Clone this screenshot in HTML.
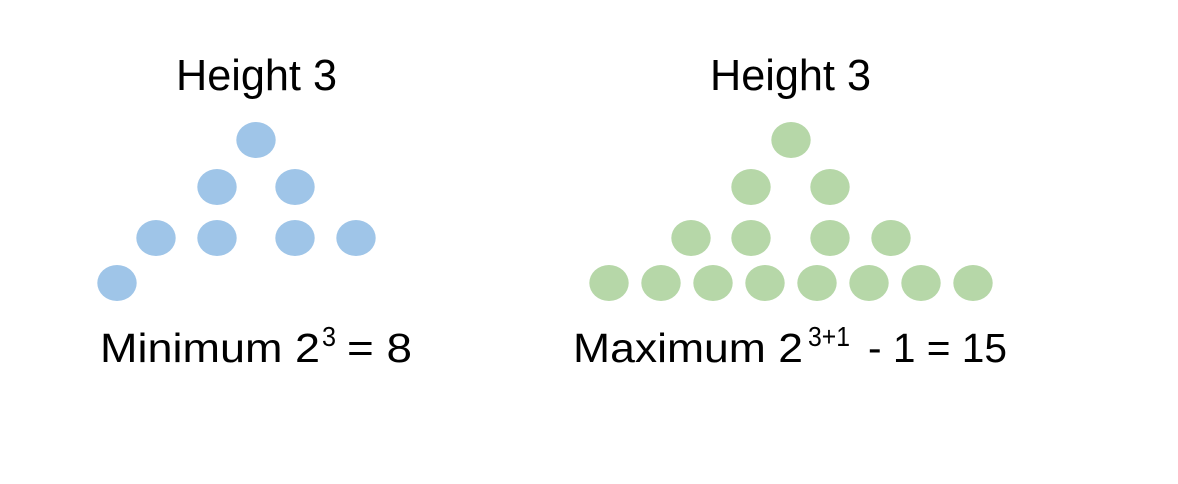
<!DOCTYPE html>
<html><head><meta charset="utf-8"><style>
html,body{margin:0;padding:0;background:#fff;}
svg{display:block;font-family:"Liberation Sans",sans-serif;}
</style></head><body>
<svg id="fig" width="1178" height="484" viewBox="0 0 1178 484">
<rect width="1178" height="484" fill="#fff"/>
<text x="176" y="90" font-size="44" textLength="161" lengthAdjust="spacingAndGlyphs">Height 3</text>
<text x="710" y="90" font-size="44" textLength="161" lengthAdjust="spacingAndGlyphs">Height 3</text>
<g font-size="41">
<text x="100" y="362" textLength="220" lengthAdjust="spacingAndGlyphs">Minimum 2</text>
<text x="322" y="346" font-size="28" textLength="14" lengthAdjust="spacingAndGlyphs">3</text>
<text x="347" y="362" textLength="65" lengthAdjust="spacingAndGlyphs">= 8</text>
</g>
<g font-size="41">
<text x="573" y="362" textLength="230" lengthAdjust="spacingAndGlyphs">Maximum 2</text>
<text x="808" y="346" font-size="28" textLength="42" lengthAdjust="spacingAndGlyphs">3+1</text>
<text x="868" y="362" textLength="139" lengthAdjust="spacingAndGlyphs">- 1 = 15</text>
</g>
<g id="dots"></g>
</svg>
<script>
const minX=[256,217,295,156,217,295,356,117];
const minY=[140,187,187,238,238,238,238,283];
const maxX=[791,751,830,691,751,830,891,609,661,713,765,817,869,921,973];
const maxY=[140,187,187,238,238,238,238,283,283,283,283,283,283,283,283];
const g=document.getElementById('dots');
function draw(xs,ys,color,name){
  for(let i=0;i<xs.length;i++){
    const e=document.createElementNS('http://www.w3.org/2000/svg','ellipse');
    e.setAttribute('cx',xs[i]);e.setAttribute('cy',ys[i]);
    e.setAttribute('rx',19.7);e.setAttribute('ry',18);
    e.setAttribute('fill',color);
    
    
    g.appendChild(e);
  }
}
draw(minX,minY,'#9fc5e8','min-tree-node');
draw(maxX,maxY,'#b6d7a8','max-tree-node');
</script>
</body></html>
